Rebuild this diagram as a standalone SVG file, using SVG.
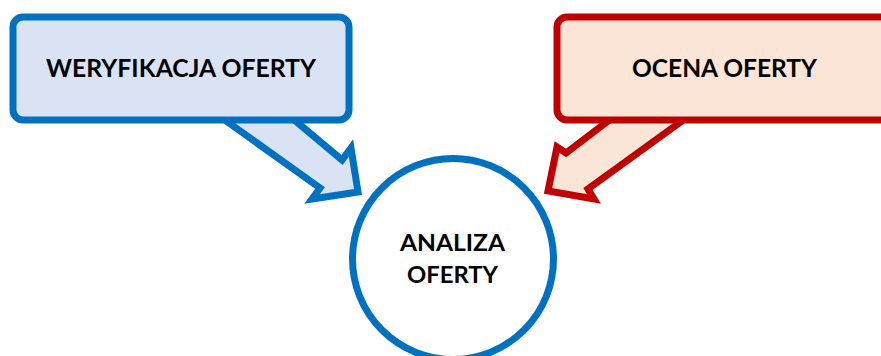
<svg xmlns="http://www.w3.org/2000/svg" width="881" height="356" viewBox="0 0 881 356">
<style>
.lbl{font-family:Lato,"Open Sans","Liberation Sans",sans-serif;font-weight:bold;fill:#000;text-anchor:middle}
.blue{fill:#DAE3F3;stroke:#0070C0;stroke-width:7;stroke-linejoin:miter}
.red{fill:#FBE5D6;stroke:#C00000;stroke-width:7;stroke-linejoin:miter}
</style>
<rect width="881" height="356" fill="#fff"/>
<g id="connectors">
<polygon class="blue" points="222,118 320,188 312,199 358,192 351,148 342,160 292,118"/>
<polygon class="red" points="612,118 566,153 557,147 548,191 594,199 588,189 686,118"/>
</g>
<g id="weryfikacja">
<rect class="blue" x="13" y="17" width="336" height="103" rx="10" stroke-width="8"/>
<text class="lbl" x="181" y="77" font-size="24" textLength="270" lengthAdjust="spacingAndGlyphs">WERYFIKACJA OFERTY</text>
</g>
<g id="ocena">
<rect class="red" x="557" y="17" width="340" height="103" rx="10" stroke-width="8"/>
<text class="lbl" x="724.5" y="77" font-size="24" textLength="185" lengthAdjust="spacingAndGlyphs">OCENA OFERTY</text>
</g>
<g id="analiza">
<circle cx="453" cy="259" r="100.5" fill="#fff" stroke="#0070C0" stroke-width="7"/>
<text class="lbl" x="452.5" y="251" font-size="23" textLength="105" lengthAdjust="spacingAndGlyphs">ANALIZA</text>
<text class="lbl" x="452.5" y="283" font-size="23" textLength="91" lengthAdjust="spacingAndGlyphs">OFERTY</text>
</g>
</svg>
